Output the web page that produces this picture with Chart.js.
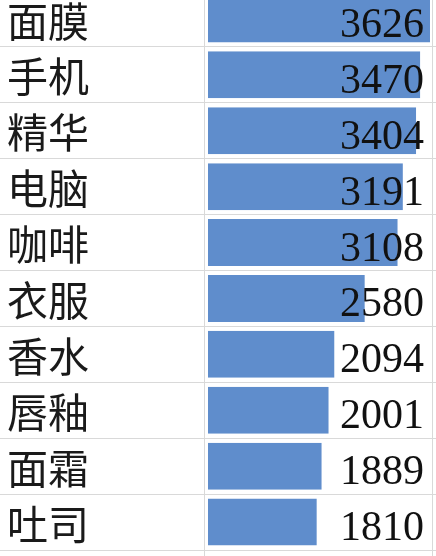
<!DOCTYPE html>
<html>
<head>
<meta charset="utf-8">
<script src="https://cdn.jsdelivr.net/npm/chart.js@4/dist/chart.umd.min.js"></script>
<style>
  html, body { margin: 0; padding: 0; background: #fff; }
  #wrap { position: relative; width: 436px; height: 556px; overflow: hidden; }
  #chart { position: absolute; left: 0; top: -9px; }
</style>
</head>
<body>
<div id="wrap">
  <canvas id="chart" width="436" height="566"></canvas>
</div>
<script>
// data
const categories = ['面膜', '手机', '精华', '电脑', '咖啡', '衣服', '香水', '唇釉', '面霜', '吐司'];
const sales = [3626, 3470, 3404, 3191, 3108, 2580, 2094, 2001, 1889, 1810];

const barColor = '#5f8dcc';
const lineColor = '#d9d9d9';

// value labels, right aligned in the cell like excel
const valueLabels = {
    id: 'valueLabels',
    afterDatasetsDraw(chart) {
        const ctx = chart.ctx;
        const meta = chart.getDatasetMeta(0);
        ctx.save();
        ctx.font = '42px "Liberation Serif"';
        ctx.fillStyle = '#111';
        ctx.textAlign = 'right';
        ctx.textBaseline = 'alphabetic';
        meta.data.forEach((bar, i) => {
            ctx.fillText(String(sales[i]), chart.chartArea.right - 12, bar.y + 18);
        });
        ctx.restore();
    }
};

// cell borders (column line between labels and bars, right edge)
const cellLines = {
    id: 'cellLines',
    afterDatasetsDraw(chart) {
        const ctx = chart.ctx;
        const x0 = chart.scales.x.getPixelForValue(0);
        ctx.save();
        ctx.strokeStyle = lineColor;
        ctx.lineWidth = 1;
        ctx.beginPath();
        ctx.moveTo(Math.round(x0) + 0.5, 0);
        ctx.lineTo(Math.round(x0) + 0.5, chart.height);
        ctx.moveTo(chart.chartArea.right - 3.5, 0);
        ctx.lineTo(chart.chartArea.right - 3.5, chart.height);
        ctx.stroke();
        ctx.restore();
    }
};

const chart = new Chart(document.getElementById('chart'), {
    type: 'bar',
    data: {
        labels: categories,
        datasets: [{
            data: sales,
            backgroundColor: barColor,
            borderColor: '#fff',
            borderWidth: { left: 4, top: 0, right: 0, bottom: 0 },
            borderSkipped: false,
            barPercentage: 0.84,
            categoryPercentage: 1
        }]
    },
    options: {
        indexAxis: 'y',
        responsive: false,
        animation: false,
        devicePixelRatio: 1,
        layout: { padding: { left: 7, right: 0, top: 0, bottom: 7 } },
        plugins: {
            legend: { display: false },
            tooltip: { enabled: false }
        },
        scales: {
            x: {
                display: false,
                min: 0,
                max: Math.max(...sales) * 1.0265
            },
            y: {
                grid: {
                    color: lineColor,
                    lineWidth: 1,
                    tickLength: 204,
                    offset: true
                },
                border: { display: false },
                ticks: {
                    crossAlign: 'far',
                    color: '#1a1a1a',
                    labelOffset: 2,
                    font: { family: '"Noto Sans CJK SC"', size: 41 }
                },
                afterFit(scale) {
                    scale.width = 197;
                    scale.paddingTop = 0;
                    scale.paddingBottom = 0;
                }
            }
        }
    },
    plugins: [valueLabels, cellLines]
});
</script>
</body>
</html>
